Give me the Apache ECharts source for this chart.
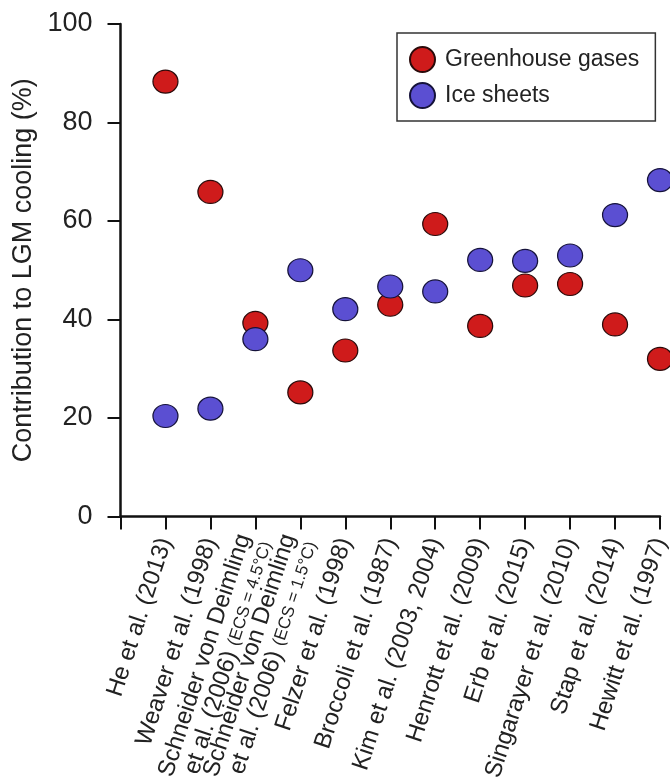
<!DOCTYPE html>
<html>
<head>
<meta charset="utf-8">
<script src="https://cdn.jsdelivr.net/npm/echarts@6/dist/echarts.min.js"></script>
<style>
  html, body { margin: 0; padding: 0; background: #fff; }
  #chart { width: 670px; height: 783px; }
</style>
</head>
<body>
<div id="chart"></div>
<script>
// studies (x axis), line 1 / line 2 / small note
var studies = [
    ['He et al. (2013)', '', ''],
    ['Weaver et al. (1998)', '', ''],
    ['Schneider von Deimling', 'et al. (2006)', '(ECS = 4.5\u00b0C)'],
    ['Schneider von Deimling', 'et al. (2006)', '(ECS = 1.5\u00b0C)'],
    ['Felzer et al. (1998)', '', ''],
    ['Broccoli et al. (1987)', '', ''],
    ['Kim et al. (2003, 2004)', '', ''],
    ['Henrott et al. (2009)', '', ''],
    ['Erb et al. (2015)', '', ''],
    ['Singarayer et al. (2010)', '', ''],
    ['Stap et al. (2014)', '', ''],
    ['Hewitt et al. (1997)', '', '']
];
// contribution to LGM cooling (%)
var greenhouse = [88.3, 65.9, 39.3, 25.2, 33.7, 43.0, 59.4, 38.7, 46.9, 47.2, 39.0, 32.0];
var iceSheets  = [20.4, 21.9, 36.0, 50.0, 42.1, 46.7, 45.7, 52.1, 51.9, 53.0, 61.2, 68.3];
var yTicks = [0, 20, 40, 60, 80, 100];

function pts(vals){
    var out = [];
    for (var i = 0; i < vals.length; i++) out.push([i + 1, vals[i]]);
    return out;
}

var font = 'Liberation Sans, Arial, Helvetica, sans-serif';

var option = {
    animation: false,
    backgroundColor: '#fff',
    grid: { left: 120.5, right: 10, top: 24, bottom: 266.5, containLabel: false, outerBoundsMode: 'none' },
    legend: {
        orient: 'vertical',
        left: 397, top: 33,
        padding: [13, 16, 12, 12],
        itemGap: 9,
        itemWidth: 25, itemHeight: 25,
        icon: 'circle',
        borderColor: '#333', borderWidth: 1.5,
        textStyle: { fontFamily: font, fontSize: 23, color: '#222', padding: [0, 0, 0, 5] },
        data: ['Greenhouse gases', 'Ice sheets']
    },
    xAxis: {
        type: 'value', min: 0, max: 12, interval: 1,
        axisLine: { show: true, lineStyle: { color: '#111', width: 2.5 } },
        axisTick: { show: true, inside: false, length: 13, lineStyle: { color: '#111', width: 2 } },
        splitLine: { show: false },
        axisLabel: {
            rotate: 72, margin: 22,
            fontFamily: font, fontSize: 24, color: '#222',
            lineHeight: 24,
            formatter: function(v){
                var s = studies[v - 1];
                if (!s) return '';
                if (!s[1]) return s[0];
                return s[0] + '\n' + s[1] + ' {s|' + s[2] + '}';
            },
            rich: { s: { fontFamily: font, fontSize: 17, color: '#222' } }
        }
    },
    yAxis: {
        type: 'value', min: 0, max: 100, interval: 20,
        name: 'Contribution to LGM cooling (%)',
        nameLocation: 'middle', nameGap: 74,
        nameTextStyle: { fontFamily: font, fontSize: 27, color: '#222' },
        axisLine: { show: true, lineStyle: { color: '#111', width: 2.5 } },
        axisTick: { show: true, length: 13, lineStyle: { color: '#111', width: 2 } },
        splitLine: { show: false },
        axisLabel: {
            margin: 28, fontFamily: font, fontSize: 27, color: '#222',
            formatter: function(v){ return yTicks.indexOf(v) >= 0 ? String(v) : ''; }
        }
    },
    series: [
        {
            name: 'Greenhouse gases', type: 'scatter', symbol: 'circle', symbolSize: [25, 23],
            itemStyle: { color: '#cf1b1b', borderColor: '#2a0a0a', borderWidth: 1.2, opacity: 1 },
            data: pts(greenhouse)
        },
        {
            name: 'Ice sheets', type: 'scatter', symbol: 'circle', symbolSize: [25, 23],
            itemStyle: { color: '#5b4fd2', borderColor: '#15123a', borderWidth: 1.2, opacity: 1 },
            data: pts(iceSheets)
        }
    ]
};

var myChart = echarts.init(document.getElementById('chart'), null, { renderer: 'canvas' });
myChart.setOption(option);
</script>
</body>
</html>
